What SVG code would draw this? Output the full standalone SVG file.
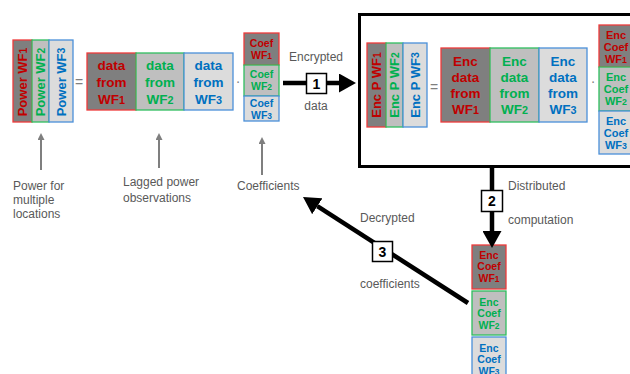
<svg xmlns="http://www.w3.org/2000/svg" width="630" height="374" viewBox="0 0 630 374">
<style>
text{font-family:"Liberation Sans",Arial,sans-serif}
.dk{fill:#7f7f7f;stroke:#ee3b3b;stroke-width:1.3}
.md{fill:#bfbfbf;stroke:#2ebd5f;stroke-width:1.3}
.lt{fill:#dcdcdc;stroke:#4a90d9;stroke-width:1.3}
.r{fill:#c00000}
.g{fill:#00b050}
.b{fill:#0070c0}
.v{font-size:13px;font-weight:bold;text-anchor:middle;dominant-baseline:central}
.d{font-size:13.5px;font-weight:bold;text-anchor:middle}
.c10{font-size:10.5px;font-weight:bold;text-anchor:middle}
.c11{font-size:11px;font-weight:bold;text-anchor:middle}
.s{font-size:80%}
.lab{font-size:12px;fill:#595959}
.op{font-size:14px;fill:#7f7f7f;text-anchor:middle}
.num{font-size:14px;font-weight:bold;text-anchor:middle;fill:#000}
.nb{fill:#fff;stroke:#000;stroke-width:1.5}
.ar{stroke:#000;stroke-width:4.5;fill:none}
.ga{stroke:#7f7f7f;stroke-width:2;fill:none}
</style>
<defs>
<marker id="bh" viewBox="0 0 17 19" refX="0" refY="9.5" markerWidth="17" markerHeight="19" markerUnits="userSpaceOnUse" orient="auto"><path d="M0,0 L17,9.5 L0,19 Z" fill="#000"/></marker>
<marker id="gh" viewBox="0 0 7 7" refX="0" refY="3.5" markerWidth="7" markerHeight="7" markerUnits="userSpaceOnUse" orient="auto"><path d="M0,0 L7,3.5 L0,7 Z" fill="#7f7f7f"/></marker>
</defs>

<g id="server-box">
<rect x="359.5" y="14.5" width="290" height="152" fill="#fff" stroke="#000" stroke-width="3"/>
</g>

<g id="power-vector">
<rect class="dk" x="13" y="40" width="19" height="82"/>
<rect class="md" x="32" y="40" width="17" height="82"/>
<rect class="lt" x="49" y="40" width="24" height="82"/>
<text class="v r" transform="rotate(-90 22.5 82)" x="22.5" y="82">Power WF<tspan class="s">1</tspan></text>
<text class="v g" transform="rotate(-90 40.5 82)" x="40.5" y="82">Power WF<tspan class="s">2</tspan></text>
<text class="v b" transform="rotate(-90 61 82)" x="61" y="82">Power WF<tspan class="s">3</tspan></text>
</g>
<text class="op" x="79" y="87">=</text>

<g id="data-matrix">
<rect class="dk" x="87" y="53" width="49" height="57"/>
<rect class="md" x="136" y="53" width="48" height="57"/>
<rect class="lt" x="184" y="53" width="49" height="57"/>
<text class="d r"><tspan x="111.5" y="69.5">data</tspan><tspan x="111.5" y="86.5">from</tspan><tspan x="111.5" y="103.5">WF<tspan class="s">1</tspan></tspan></text>
<text class="d g"><tspan x="160" y="69.5">data</tspan><tspan x="160" y="86.5">from</tspan><tspan x="160" y="103.5">WF<tspan class="s">2</tspan></tspan></text>
<text class="d b"><tspan x="208.5" y="69.5">data</tspan><tspan x="208.5" y="86.5">from</tspan><tspan x="208.5" y="103.5">WF<tspan class="s">3</tspan></tspan></text>
</g>
<text class="op" x="238" y="86">·</text>

<g id="coef-vector">
<rect class="dk" x="244" y="33" width="35" height="32"/>
<rect class="md" x="244" y="65" width="35" height="31"/>
<rect class="lt" x="244" y="96" width="35" height="25"/>
<text class="c10 r"><tspan x="261.5" y="46.5">Coef</tspan><tspan x="261.5" y="58.5">WF<tspan class="s">1</tspan></tspan></text>
<text class="c10 g"><tspan x="261.5" y="77.5">Coef</tspan><tspan x="261.5" y="89.5">WF<tspan class="s">2</tspan></tspan></text>
<text class="c10 b"><tspan x="261.5" y="107">Coef</tspan><tspan x="261.5" y="118.5">WF<tspan class="s">3</tspan></tspan></text>
</g>

<g id="enc-power-vector">
<rect class="dk" x="367" y="43" width="19" height="84"/>
<rect class="md" x="386" y="43" width="17" height="84"/>
<rect class="lt" x="403" y="43" width="24" height="84"/>
<text class="v r" transform="rotate(-90 376.5 85)" x="376.5" y="85">Enc P WF<tspan class="s">1</tspan></text>
<text class="v g" transform="rotate(-90 394.5 85)" x="394.5" y="85">Enc P WF<tspan class="s">2</tspan></text>
<text class="v b" transform="rotate(-90 415 85)" x="415" y="85">Enc P WF<tspan class="s">3</tspan></text>
</g>
<text class="op" x="434" y="92">=</text>

<g id="enc-data-matrix">
<rect class="dk" x="441" y="48" width="49" height="74"/>
<rect class="md" x="490" y="48" width="49" height="74"/>
<rect class="lt" x="539" y="48" width="48" height="74"/>
<text class="d r"><tspan x="465.5" y="65.5">Enc</tspan><tspan x="465.5" y="81.5">data</tspan><tspan x="465.5" y="97.5">from</tspan><tspan x="465.5" y="113.5">WF<tspan class="s">1</tspan></tspan></text>
<text class="d g"><tspan x="514.5" y="65.5">Enc</tspan><tspan x="514.5" y="81.5">data</tspan><tspan x="514.5" y="97.5">from</tspan><tspan x="514.5" y="113.5">WF<tspan class="s">2</tspan></tspan></text>
<text class="d b"><tspan x="563" y="65.5">Enc</tspan><tspan x="563" y="81.5">data</tspan><tspan x="563" y="97.5">from</tspan><tspan x="563" y="113.5">WF<tspan class="s">3</tspan></tspan></text>
</g>
<text class="op" x="593" y="86">·</text>

<g id="enc-coef-vector">
<rect class="dk" x="599" y="25" width="34" height="42"/>
<rect class="md" x="599" y="67" width="34" height="44"/>
<rect class="lt" x="599" y="111" width="34" height="43"/>
<text class="c11 r"><tspan x="616" y="39">Enc</tspan><tspan x="616" y="51">Coef</tspan><tspan x="616" y="63">WF<tspan class="s">1</tspan></tspan></text>
<text class="c11 g"><tspan x="616" y="81">Enc</tspan><tspan x="616" y="93">Coef</tspan><tspan x="616" y="105">WF<tspan class="s">2</tspan></tspan></text>
<text class="c11 b"><tspan x="616" y="125">Enc</tspan><tspan x="616" y="137">Coef</tspan><tspan x="616" y="149">WF<tspan class="s">3</tspan></tspan></text>
</g>

<g id="enc-coef-result">
<rect class="dk" x="472" y="245" width="34" height="44"/>
<rect class="md" x="472" y="291" width="34" height="44"/>
<rect class="lt" x="472" y="337" width="34" height="44"/>
<text class="c10 r"><tspan x="489" y="258.5">Enc</tspan><tspan x="489" y="270">Coef</tspan><tspan x="489" y="281.5">WF<tspan class="s">1</tspan></tspan></text>
<text class="c10 g"><tspan x="489" y="305.5">Enc</tspan><tspan x="489" y="317">Coef</tspan><tspan x="489" y="328.5">WF<tspan class="s">2</tspan></tspan></text>
<text class="c10 b"><tspan x="489" y="351.5">Enc</tspan><tspan x="489" y="363">Coef</tspan><tspan x="489" y="374.5">WF<tspan class="s">3</tspan></tspan></text>
</g>

<g id="connectors">
<line class="ar" x1="283" y1="83" x2="339" y2="83" marker-end="url(#bh)"/>
<line class="ar" x1="492" y1="168" x2="492" y2="231" marker-end="url(#bh)"/>
<line class="ar" x1="468" y1="303" x2="317.3" y2="206.2" marker-end="url(#bh)"/>
<line class="ga" x1="41" y1="170" x2="41" y2="140" marker-end="url(#gh)"/>
<line class="ga" x1="159" y1="168" x2="159" y2="140" marker-end="url(#gh)"/>
<line class="ga" x1="262" y1="175" x2="262" y2="144" marker-end="url(#gh)"/>
</g>

<g id="step1">
<rect class="nb" x="306.5" y="73.5" width="20" height="20"/>
<text class="num" x="316.5" y="88.5">1</text>
<text class="lab" x="316" y="61" text-anchor="middle">Encrypted</text>
<text class="lab" x="316" y="110" text-anchor="middle">data</text>
</g>
<g id="step2">
<rect class="nb" x="481.5" y="190.5" width="21" height="21"/>
<text class="num" x="492" y="206">2</text>
<text class="lab" x="508" y="190">Distributed</text>
<text class="lab" x="508" y="224">computation</text>
</g>
<g id="step3">
<rect class="nb" x="372.5" y="241.5" width="20" height="20"/>
<text class="num" x="382.5" y="256.5">3</text>
<text class="lab" x="360" y="222">Decrypted</text>
<text class="lab" x="360" y="288">coefficients</text>
</g>

<g id="labels">
<text class="lab"><tspan x="13" y="190">Power for</tspan><tspan x="13" y="204">multiple</tspan><tspan x="13" y="218">locations</tspan></text>
<text class="lab"><tspan x="123" y="186">Lagged power</tspan><tspan x="123" y="202">observations</tspan></text>
<text class="lab" x="237" y="190">Coefficients</text>
</g>
</svg>
